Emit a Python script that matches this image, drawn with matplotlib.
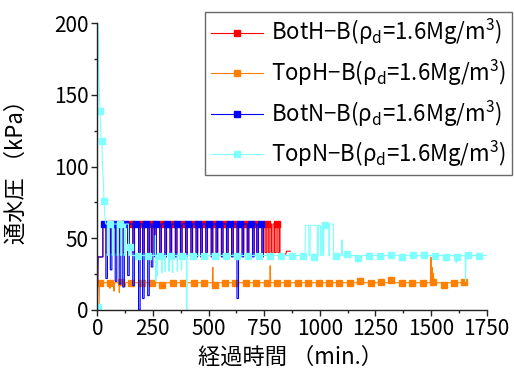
import matplotlib
matplotlib.use("Agg")
import matplotlib.pyplot as plt
from matplotlib.lines import Line2D
from matplotlib.ticker import MultipleLocator

plt.rcParams['font.family'] = ['Noto Sans CJK JP', 'DejaVu Sans']
plt.rcParams['mathtext.default'] = 'regular'

xlabel = "経過時間 （min.）"
ylabel = "通水圧 （kPa）"
names = ["BotH−B", "TopH−B", "BotN−B", "TopN−B"]
colors = ["#ff0000", "#ff8000", "#0000ff", "#80ffff"]

# BotH-B (red): start, pulse dips, end
both_head_t = [0, 3, 25, 25]
both_head_v = [0, 37, 37, 60]
both_dip_t = [43, 63, 85, 103, 119, 141, 164, 190, 208, 231, 247, 262, 285, 308,
              331, 355, 378, 401, 425, 448, 469, 492, 516, 538, 562, 585, 608, 632,
              655, 678, 702, 721, 744, 758, 772, 786, 800, 815]
both_dip_v = [40, 40, 40, 40, 40, 40, 40, 40, 40, 40, 40, 40, 40, 40,
              40, 40, 40, 40, 40, 40, 40, 40, 40, 40, 40, 40, 40, 40,
              40, 40, 40, 40, 40, 40, 40, 40, 40, 40]
both_tail_t = [821, 821, 848, 850, 867]
both_tail_v = [60, 39, 39, 41, 41]
both_mark_t = [59, 106, 152, 199, 246, 293, 340, 386, 433, 480, 527, 574, 620,
               667, 714, 761, 808]
both_mark_v = [60, 60, 60, 60, 60, 60, 60, 60, 60, 60, 60, 60, 60,
               60, 60, 60, 60]

# TopH-B (orange)
toph_t = [0, 8, 10, 55, 57, 59, 73, 75, 77, 97, 99, 101, 123, 125, 127, 517, 519,
          521, 775, 777, 779, 1497, 1500, 1502, 1505, 1507, 1510, 1513, 1520, 1662]
toph_v = [0, 0, 19, 19, 15, 19, 19, 13, 19, 19, 12, 19, 19, 16, 19, 19, 30,
          19, 19, 31, 19, 19, 37, 22, 30, 21, 26, 20, 19, 19]
toph_mark_t = [12, 59, 106, 152, 199, 246, 293, 340, 386, 433, 480, 527, 574, 620,
               667, 714, 761, 808, 854, 901, 948, 995, 1042, 1088, 1135, 1182, 1229,
               1276, 1322, 1369, 1416, 1463, 1510, 1556, 1603, 1650]
toph_mark_v = [19, 19, 19.5, 19, 18.5, 19, 17.5, 19, 18.5, 19, 19, 17.5, 19, 18.5,
               19, 18.5, 19, 19, 18.5, 19, 19, 19, 18.5, 19, 18.5, 20, 19,
               19.5, 21, 19, 19, 18.5, 19.5, 17.5, 19, 19.5]

# BotN-B (blue)
botn_head_t = [0, 3, 25, 25]
botn_head_v = [0, 37, 37, 60]
botn_dip_t = [42, 62, 84, 102, 118, 140, 163, 189, 207, 230, 246, 261, 284, 307,
              330, 354, 377, 400, 424, 447, 468, 491, 515, 537, 561, 584, 607, 631,
              654, 677, 701, 720, 743]
botn_dip_v = [22, 28, 20, 18, 16, 24, 17, 0, 8, 10, 30, 37, 37, 37,
              37, 37, 37, 37, 37, 37, 37, 37, 37, 37, 37, 37, 37, 8,
              37, 37, 37, 37, 37]
botn_mark_t = [31, 78, 125, 172, 219, 266, 313, 360, 407, 454, 501, 548, 595, 642,
               689, 736]
botn_mark_v = [60, 60, 60, 60, 60, 60, 60, 60, 60, 60, 60, 60, 60, 60,
               60, 60]

# TopN-B (cyan)
topn_head_t = [0, 2, 6, 12, 17, 21, 23, 27, 30, 34, 38]
topn_head_v = [2, 200, 170, 139, 118, 118, 100, 92, 76, 66, 60]
topn_topdip_t = [48, 70, 92, 108, 125]
topn_topdip_v = [38, 38, 38, 38, 38]
topn_mid_t = [140, 141, 145, 146, 152, 155, 260, 261, 263, 265]
topn_mid_v = [60, 38, 38, 46, 44, 38, 38, 52, 20, 38]
topn_lowdip_t = [270, 290, 305, 322, 338, 360, 378, 402]
topn_lowdip_v = [24, 26, 27, 27, 26, 27, 28, 0]
topn_tail_t = [934, 935, 950, 951, 956, 957, 988, 989, 993, 994, 1003, 1004, 1008,
               1009, 1013, 1014, 1017, 1018, 1040, 1041, 1043, 1044, 1061, 1062,
               1098, 1100, 1102, 1611, 1613, 1615, 1653, 1655, 1657, 1752]
topn_tail_v = [38, 59, 59, 38, 38, 59, 59, 38, 38, 59, 59, 38, 38,
               59, 59, 38, 38, 59, 59, 38, 38, 60, 60, 38,
               38, 49, 38, 38, 33, 38, 38, 20, 38, 38]
topn_mark_t = [3, 12, 23, 30, 57, 100, 147, 181, 230, 280, 329, 379, 428, 478, 527,
               577, 626, 676, 725, 775, 824, 874, 923, 973, 1022, 1072, 1121, 1171,
               1220, 1270, 1319, 1369, 1418, 1468, 1517, 1567, 1616, 1666, 1715]
topn_mark_v = [2, 139, 118, 76, 60, 60, 44, 38, 38, 38, 38, 38, 38, 38, 38,
               38, 38, 38, 38, 38, 38, 38, 38, 37, 59, 38, 39, 36.5,
               38, 38, 38.5, 37, 38.5, 38.5, 38, 37, 37, 38.5, 38]


def square_dips(level, dip_t, dip_v, half):
    xs, ys = [], []
    for t, v in zip(dip_t, dip_v):
        xs += [t - half, t - half, t + half, t + half]
        ys += [level, v, v, level]
    return xs, ys


wx, wy = square_dips(60, both_dip_t, both_dip_v, 3.5)
both_t = both_head_t + wx + both_tail_t
both_v = both_head_v + wy + both_tail_v

wx, wy = square_dips(60, botn_dip_t, botn_dip_v, 3.5)
botn_t = botn_head_t + wx
botn_v = botn_head_v + wy

ax1, ay1 = square_dips(60, topn_topdip_t, topn_topdip_v, 2.5)
ax2, ay2 = square_dips(38, topn_lowdip_t, topn_lowdip_v, 1)
topn_t = topn_head_t + ax1 + topn_mid_t + ax2 + topn_tail_t
topn_v = topn_head_v + ay1 + topn_mid_v + ay2 + topn_tail_v

series = [
    (both_t, both_v, both_mark_t, both_mark_v),
    (toph_t, toph_v, toph_mark_t, toph_mark_v),
    (botn_t, botn_v, botn_mark_t, botn_mark_v),
    (topn_t, topn_v, topn_mark_t, topn_mark_v),
]

fig = plt.figure(figsize=(5.14, 3.72), dpi=100)
ax = fig.add_axes([0.1893, 0.1667, 0.7576, 0.7707])

lw = 0.8
ms = 4.6
for (t, v, mt, mv), c in zip(series, colors):
    ax.plot(t, v, color=c, lw=lw, solid_joinstyle='miter')
    ax.plot(mt, mv, ls='none', marker='s', ms=ms, color=c, mec=c)

ax.set_xlim(0, 1750)
ax.set_ylim(0, 200)
ax.xaxis.set_major_locator(MultipleLocator(250))
ax.xaxis.set_minor_locator(MultipleLocator(125))
ax.yaxis.set_major_locator(MultipleLocator(50))
ax.yaxis.set_minor_locator(MultipleLocator(25))

for s in ["top", "right"]:
    ax.spines[s].set_visible(False)
for s in ["left", "bottom"]:
    ax.spines[s].set_color("#222222")
    ax.spines[s].set_linewidth(1)

ax.tick_params(which='major', direction='out', length=4, width=1, color="#222222",
               labelsize=15, pad=2)
ax.tick_params(which='minor', direction='out', length=2.5, width=1, color="#222222")

ax.set_xlabel(xlabel, fontsize=16)
ax.set_ylabel(ylabel, fontsize=16)
ax.xaxis.set_label_coords(0.495, -0.125)
ax.yaxis.set_label_coords(-0.178, 0.5)

handles = [Line2D([0], [0], color=c, lw=lw, marker='s', ms=ms) for c in colors]
labels = [f"{n}(ρ$_{{d}}$=1.6Mg/m$^{{3}}$)" for n in names]
leg = fig.legend(handles, labels, loc='upper left', bbox_to_anchor=(0.399, 0.9686),
                 bbox_transform=fig.transFigure, borderaxespad=0, fontsize=16,
                 frameon=True, fancybox=False, edgecolor="#444444",
                 handlelength=2.35, handletextpad=0.36, labelspacing=0.47,
                 borderpad=0.25)
leg.get_frame().set_linewidth(1)

fig.savefig("out.png", dpi=100)
